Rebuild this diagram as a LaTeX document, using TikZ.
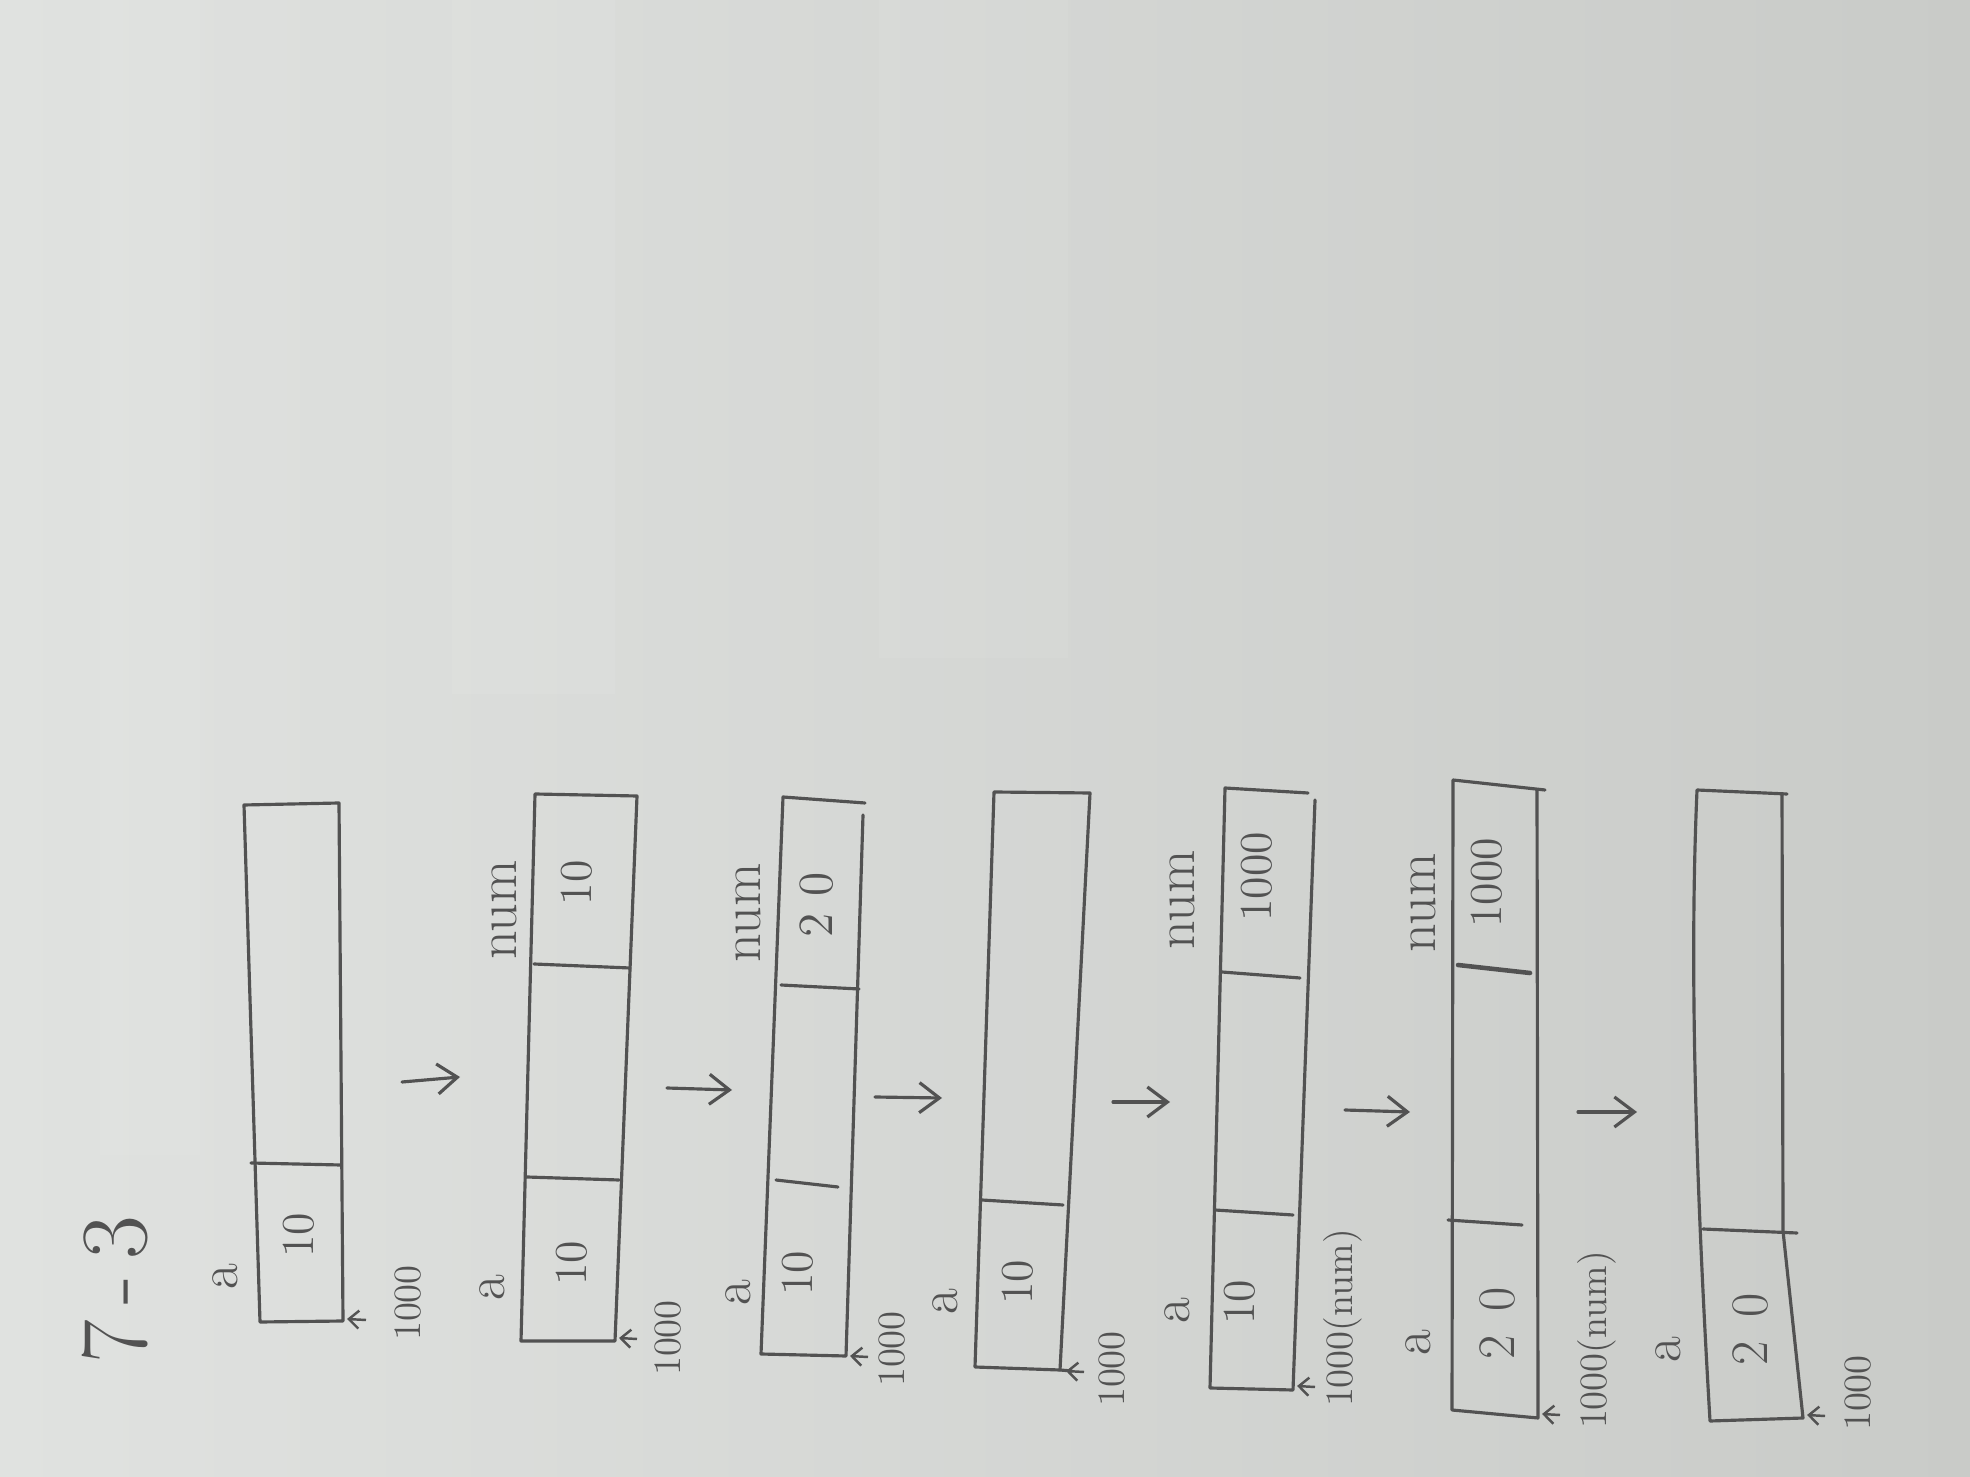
\documentclass[tikz,border=0pt]{standalone}
\usepackage{tikz}
\usetikzlibrary{arrows.meta}

\definecolor{paperlight}{RGB}{224,226,224}
\definecolor{paperdark}{RGB}{201,203,200}
\definecolor{lead}{RGB}{82,82,82}

\tikzset{
    pencil/.style={draw=lead, line width=0.9pt, line join=round, line cap=round},
    val/.style={rotate=90, text=lead, inner sep=0pt, font=\fontsize{13}{13}\selectfont},
    lbl/.style={rotate=90, text=lead, inner sep=0pt, font=\fontsize{16}{16}\selectfont},
    addr/.style={rotate=90, text=lead, inner sep=0pt, font=\fontsize{11}{11}\selectfont},
    flow/.style={pencil, -{Straight Barb[length=2mm,width=3mm]}},
    ptr/.style={draw=lead, line width=0.7pt, -{Straight Barb[length=1mm,width=1.8mm]}}
}

\begin{document}
\begin{tikzpicture}[x=0.01cm, y=-0.01cm]
% Paper
\shade[left color=paperlight, right color=paperdark] (0,0) rectangle (1970,1477);
\useasboundingbox (0,0) rectangle (1970,1477);

% Tape marks
\fill[white, opacity=0.05] (100,0) rectangle (200,1155);
\fill[white, opacity=0.06] (452,0) rectangle (615,694);
\fill[white, opacity=0.06] (879,0) rectangle (1068,658);

% Title
\node[lbl, font=\fontsize{27}{27}\selectfont] (title) at (115,1290) {7\,-\,3};

% State 1
\draw[pencil] (244,805) -- (339,803) -- (343,1321) -- (260,1322) -- cycle;
\draw[pencil] (251,1163) -- (341,1165);
\node[val] (s1a) at (299,1235) {10};
\node[lbl] (a1) at (225,1277) {a};
\node[addr] (m1) at (408,1303) {1000};
\draw[ptr] (366,1320) -- (347,1319);

% State 2
\draw[pencil] (535,794) -- (637,796) -- (615,1341) -- (521,1341) -- cycle;
\draw[pencil] (534,964) -- (630,968);
\draw[pencil] (527,1177) -- (619,1180);
\node[val] (s2a) at (572,1263) {10};
\node[val] (s2b) at (577,883) {10};
\node[lbl] (a2) at (492,1288) {a};
\node[lbl] (n2) at (504,910) {num};
\node[addr] (m2) at (668,1338) {1000};
\draw[ptr] (637,1339) -- (619,1338);

% State 3
\draw[pencil] (863,815) -- (846,1356) -- (761,1354) -- (783,797) -- (865,803);
\draw[pencil] (781,985) -- (859,989);
\draw[pencil] (776,1180) -- (838,1187);
\node[val] (s3a) at (798,1273) {10};
\node[val, font=\fontsize{14}{14}\selectfont] (s3b) at (817,905) {2 0};
\node[lbl] (a3) at (738,1293) {a};
\node[lbl] (n3) at (748,913) {num};
\node[addr] (m3) at (892,1349) {1000};
\draw[ptr] (868,1357) -- (850,1356);

% State 4
\draw[pencil] (994,792) -- (1090,793) -- (1060,1370) -- (975,1367) -- cycle;
\draw[pencil] (1060,1370) -- (1072,1371);
\draw[pencil] (982,1200) -- (1063,1205);
\node[val] (s4a) at (1018,1282) {10};
\node[lbl] (a4) at (945,1302) {a};
\node[addr] (m4) at (1112,1369) {1000};
\draw[ptr] (1084,1372) -- (1066,1371);

% State 5
\draw[pencil] (1315,800) -- (1293,1390) -- (1210,1388) -- (1225,788) -- (1308,793);
\draw[pencil] (1222,972) -- (1300,978);
\draw[pencil] (1215,1210) -- (1293,1215);
\node[val] (s5a) at (1240,1302) {10};
\node[val] (s5b) at (1257,877) {1000};
\node[lbl] (a5) at (1177,1311) {a};
\node[lbl] (n5) at (1182,900) {num};
\node[addr] (m5) at (1343,1318) {1000(num)};
\draw[ptr] (1315,1387) -- (1297,1386);

% State 6
\draw[pencil] (1453,780) -- (1545,790) (1537,790) -- (1538,1418) -- (1452,1410) -- (1453,780);
\draw[pencil, line width=1.3pt] (1458,965) -- (1530,973);
\draw[pencil] (1448,1220) -- (1522,1225);
\node[val, font=\fontsize{15}{15}\selectfont] (s6a) at (1497,1323) {2\hspace{0.45em}0};
\node[val] (s6b) at (1487,883) {1000};
\node[lbl] (a6) at (1418,1343) {a};
\node[lbl] (n6) at (1423,903) {num};
\node[addr] (m6) at (1597,1340) {1000(num)};
\draw[ptr] (1560,1415) -- (1542,1414);

% State 7
\draw[pencil] (1697,790) -- (1787,794) (1782,794) -- (1783,1231) -- (1803,1418) -- (1710,1421)
    .. controls (1694,1150) and (1690,950) .. (1697,790);
\draw[pencil] (1703,1229) -- (1797,1233);
\node[val, font=\fontsize{15}{15}\selectfont] (s7a) at (1750,1329) {2\hspace{0.45em}0};
\node[lbl] (a7) at (1668,1350) {a};
\node[addr] (m7) at (1858,1393) {1000};
\draw[ptr] (1825,1416) -- (1807,1415);

% Steps
\coordinate (f1) at (402,1082); \coordinate (t1) at (460,1077);
\coordinate (f2) at (667,1088); \coordinate (t2) at (732,1090);
\coordinate (f3) at (875,1097); \coordinate (t3) at (942,1098);
\coordinate (f4) at (1113,1102); \coordinate (t4) at (1170,1102);
\coordinate (f5) at (1345,1110); \coordinate (t5) at (1410,1112);
\coordinate (f6) at (1578,1112); \coordinate (t6) at (1637,1112);
\draw[flow] (f1) -- (t1);
\draw[flow] (f2) -- (t2);
\draw[flow] (f3) -- (t3);
\draw[flow] (f4) -- (t4);
\draw[flow] (f5) -- (t5);
\draw[flow] (f6) -- (t6);
\end{tikzpicture}
\end{document}
